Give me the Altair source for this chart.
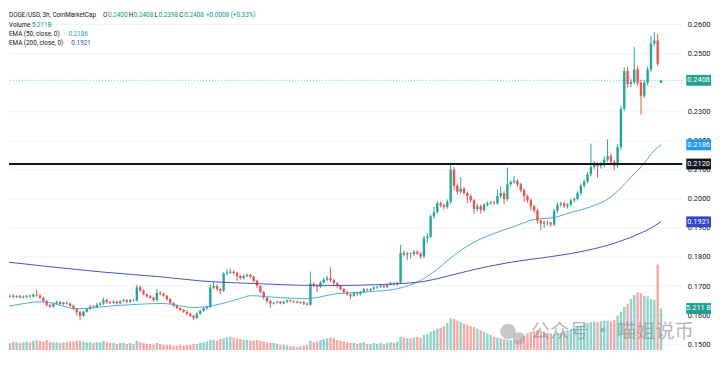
import altair as alt
import pandas as pd

# ---------------- data (prices in 1e-4 USD units) ----------------
close = [
    1664, 1667, 1663, 1666, 1661, 1663, 1667, 1664, 1670, 1668,
    1660, 1648, 1635, 1630, 1640, 1645, 1638, 1643, 1640, 1632,
    1622, 1610, 1598, 1612, 1622, 1630, 1627, 1636, 1640, 1652,
    1645, 1642, 1646, 1641, 1648, 1651, 1646, 1652, 1650, 1696,
    1685, 1672, 1665, 1660, 1652, 1677, 1674, 1667, 1655, 1642,
    1632, 1625, 1618, 1612, 1605, 1598, 1590, 1605, 1615, 1624,
    1628, 1695, 1700, 1690, 1684, 1742, 1746, 1749, 1745, 1735,
    1728, 1735, 1738, 1732, 1718, 1700, 1680, 1660, 1648, 1640,
    1643, 1646, 1641, 1646, 1650, 1648, 1646, 1643, 1645, 1640,
    1636, 1708, 1702, 1698, 1712, 1722, 1727, 1720, 1710, 1700,
    1690, 1680, 1672, 1667, 1675, 1672, 1680, 1688, 1686, 1690,
    1695, 1698, 1702, 1698, 1705, 1710, 1706, 1712, 1815, 1808,
    1812, 1810, 1818, 1812, 1802, 1865, 1870, 1940, 1955, 1985,
    1978, 1972, 1990, 2100, 2045, 2025, 2035, 2020, 2010, 1995,
    1965, 1975, 1962, 1980, 1985, 1988, 1985, 2010, 2020, 2000,
    2050, 2058, 2062, 2050, 2030, 2010, 1995, 1975, 1960, 1925,
    1915, 1920, 1918, 1912, 1960, 1980, 1985, 1975, 1980, 1995,
    2000, 2020, 2045, 2060, 2085, 2110, 2118, 2112, 2116, 2135,
    2148, 2128, 2115, 2178, 2310, 2440, 2395, 2402, 2445, 2400,
    2355, 2400, 2445, 2535, 2545, 2465, 2408,
]
first_open = 1661
gap_open = {196: 2400}

upper_wick = [
    4, 3, 5, 3, 4, 5, 3, 4, 6, 18,
    4, 3, 5, 4, 3, 5, 4, 3, 4, 3,
    4, 3, 5, 4, 3, 5, 4, 6, 5, 8,
    4, 3, 5, 4, 3, 5, 4, 3, 4, 9,
    5, 4, 3, 4, 3, 13, 5, 4, 3, 4,
    3, 4, 3, 4, 3, 4, 3, 5, 4, 3,
    4, 11, 14, 5, 4, 6, 12, 11, 5, 4,
    4, 5, 6, 4, 3, 4, 3, 4, 3, 4,
    3, 4, 3, 4, 3, 4, 3, 4, 3, 4,
    3, 42, 6, 4, 5, 6, 8, 38, 5, 4,
    4, 3, 4, 3, 5, 4, 3, 5, 4, 3,
    4, 3, 5, 4, 3, 5, 4, 3, 27, 6,
    5, 4, 6, 5, 4, 8, 12, 6, 17, 8,
    6, 5, 8, 25, 10, 8, 40, 6, 5, 6,
    5, 8, 6, 5, 6, 5, 6, 22, 22, 6,
    58, 6, 16, 6, 5, 6, 5, 6, 5, 6,
    5, 6, 5, 4, 6, 8, 5, 6, 5, 6,
    5, 6, 8, 6, 8, 80, 12, 8, 10, 12,
    57, 8, 6, 10, 10, 12, 15, 10, 77, 12,
    10, 8, 10, 25, 30, 23, 0,
]
lower_wick = [
    4, 3, 5, 4, 3, 4, 5, 3, 4, 5,
    4, 5, 6, 5, 4, 3, 5, 4, 3, 4,
    5, 10, 16, 4, 3, 5, 4, 3, 4, 5,
    6, 4, 3, 5, 4, 3, 4, 5, 4, 4,
    5, 4, 5, 4, 6, 4, 5, 4, 5, 4,
    5, 4, 5, 4, 6, 5, 7, 4, 3, 4,
    5, 4, 5, 6, 12, 4, 5, 4, 6, 17,
    6, 5, 4, 6, 5, 6, 5, 6, 5, 15,
    4, 3, 4, 3, 4, 3, 4, 3, 4, 5,
    4, 4, 6, 18, 5, 4, 5, 6, 5, 6,
    5, 6, 5, 11, 4, 5, 4, 5, 4, 5,
    4, 5, 4, 5, 4, 3, 5, 4, 5, 6,
    18, 15, 6, 5, 7, 6, 17, 6, 8, 6,
    7, 8, 6, 8, 15, 10, 8, 7, 25, 8,
    17, 8, 12, 7, 6, 5, 7, 6, 8, 18,
    8, 7, 6, 8, 7, 20, 8, 15, 8, 10,
    22, 15, 8, 7, 6, 8, 7, 6, 8, 6,
    7, 6, 8, 7, 6, 8, 7, 40, 8, 7,
    8, 10, 17, 8, 10, 8, 12, 10, 8, 12,
    65, 8, 10, 8, 10, 8, 2,
]
volume_b = [
    1.0, 0.9, 1.1, 1.0, 0.9, 1.0, 1.1, 1.0, 1.2, 1.3,
    1.2, 1.1, 1.3, 1.1, 1.0, 1.0, 0.9, 1.0, 1.0, 1.1,
    1.1, 1.2, 1.2, 1.1, 1.0, 1.0, 0.9, 1.0, 1.0, 1.2,
    1.0, 0.9, 0.9, 0.8, 0.9, 0.9, 0.8, 0.9, 0.8, 1.2,
    1.0, 0.9, 0.8, 0.8, 0.7, 0.9, 0.8, 0.7, 0.7, 0.7,
    0.6, 0.6, 0.7, 0.6, 0.7, 0.7, 0.8, 0.8, 0.9, 1.0,
    1.1, 1.3, 1.3, 1.2, 1.4, 1.5, 1.6, 1.7, 1.6, 1.5,
    1.4, 1.3, 1.3, 1.2, 1.2, 1.3, 1.2, 1.1, 1.0, 0.9,
    0.9, 0.8, 0.7, 0.7, 0.6, 0.5, 0.5, 0.4, 0.5, 0.6,
    0.7, 1.2, 1.0, 1.1, 1.3, 1.4, 1.5, 1.6, 1.5, 1.3,
    1.2, 1.1, 1.0, 0.9, 0.9, 0.8, 0.9, 1.0, 0.8, 0.8,
    0.9, 0.8, 0.9, 0.8, 0.9, 1.0, 0.9, 1.1, 1.7, 1.6,
    1.5, 1.5, 1.6, 1.7, 1.6, 1.9, 2.0, 2.3, 2.5, 2.7,
    2.8, 3.0, 3.4, 4.0, 3.9, 3.7, 3.5, 3.3, 3.2, 3.0,
    2.9, 2.7, 2.5, 2.3, 2.1, 1.9, 1.7, 1.6, 1.5, 1.4,
    1.3, 1.3, 1.2, 1.3, 1.5, 1.8, 2.1, 2.3, 2.4, 2.5,
    2.4, 2.3, 2.2, 2.1, 2.0, 2.1, 2.2, 2.4, 2.5, 2.6,
    2.8, 3.0, 3.1, 3.3, 3.4, 3.5, 3.6, 3.5, 3.6, 3.7,
    3.7, 3.6, 3.8, 4.3, 4.8, 5.4, 5.8, 6.4, 6.9, 7.2,
    7.1, 6.8, 6.7, 6.4, 6.3, 10.7, 5.2118,
]

ema50_idx = [0, 11, 21, 33, 47, 56, 70, 73, 82, 90, 99, 108, 117, 123, 128,
             134, 140, 146, 152, 158, 164, 169, 175, 181, 184, 187, 191, 194, 196]
ema50_val = [0.1629, 0.1646, 0.1622, 0.1633, 0.1640, 0.1626, 0.1657, 0.1667,
             0.1660, 0.1657, 0.1674, 0.1680, 0.1691, 0.1714, 0.1749, 0.1806,
             0.1851, 0.1881, 0.1905, 0.1929, 0.1936, 0.1953, 0.1973, 0.2007,
             0.2038, 0.2075, 0.2123, 0.2167, 0.2186]
ema200_idx = [0, 29, 47, 58, 76, 88, 99, 111, 117, 125, 131, 140, 150, 164,
              169, 181, 187, 193, 196]
ema200_val = [0.1783, 0.1748, 0.1731, 0.1718, 0.1708, 0.1703, 0.1702, 0.1705,
              0.1708, 0.1716, 0.1731, 0.1757, 0.1780, 0.1803, 0.1812, 0.1844,
              0.1868, 0.1900, 0.1921]

tick_pos = [8, 24, 48, 64, 80, 96, 112, 128, 144, 160, 176, 192]
tick_lab = ["26", "28", "Jul", "3", "5", "7", "9", "11", "13", "15", "17", "19"]
price_ticks = [0.15, 0.16, 0.17, 0.18, 0.19, 0.20, 0.21, 0.22, 0.23, 0.25, 0.26]
grid_ticks = [0.15, 0.16, 0.17, 0.18, 0.19, 0.20, 0.21, 0.22, 0.23, 0.24, 0.25, 0.26]

level_price = 0.2120
last_price = 0.2408

box_price = [0.2408, 0.2186, 0.2120, 0.1921]
box_text = ["0.2408", "0.2186", "0.2120", "0.1921"]
box_color = ["#22a08f", "#2196f3", "#131722", "#3347c4"]
vol_last = 5.2118
vol_last_text = "5.211 B"

# ---------------- styling ----------------
UP, DOWN = "#26a69a", "#ef5350"
FONT = "Roboto"
W, H = 680, 344

rows = []
prev = first_open
for i, c in enumerate(close):
    o = gap_open.get(i, prev)
    hi = max(o, c) + upper_wick[i]
    lo = min(o, c) - lower_wick[i]
    rows.append(dict(i=i, o=o / 1e4, c=c / 1e4, hi=hi / 1e4, lo=lo / 1e4,
                     vol=volume_b[i], dir="up" if c >= o else "down"))
    prev = c
df = pd.DataFrame(rows)

xs = alt.Scale(domain=[2.19, 200.9], nice=False, zero=False)
ys = alt.Scale(domain=[0.1479, 0.2651], nice=False, zero=False)
vs = alt.Scale(domain=[0, 42.47], nice=False)
col = alt.Color("dir:N", scale=alt.Scale(domain=["up", "down"], range=[UP, DOWN]), legend=None)

label_expr = "".join(f"datum.value=={p}?'{l}':" for p, l in zip(tick_pos, tick_lab)) + "''"

base = alt.Chart(df)

hgrid = alt.Chart(pd.DataFrame({"p": grid_ticks})).mark_rule(
    color="#f0f3fa", strokeWidth=1).encode(y=alt.Y("p:Q", scale=ys, axis=None))

volume = base.mark_bar(size=2.4, opacity=0.5, clip=True).encode(
    x=alt.X("i:Q", scale=xs, axis=None),
    y=alt.Y("vol:Q", scale=vs, axis=None),
    color=col,
)

wicks = base.mark_rule(strokeWidth=1, clip=True).encode(
    x=alt.X("i:Q", scale=xs, axis=alt.Axis(
        values=tick_pos, labelExpr=label_expr, title=None, domain=False, ticks=False,
        labelFontSize=7.5, labelColor="#131722", labelFont=FONT, labelPadding=5,
        grid=True, gridColor="#f0f3fa", labelFlush=False)),
    y=alt.Y("lo:Q", scale=ys, axis=alt.Axis(
        orient="right", values=price_ticks, format=".4f", title=None, domain=False,
        ticks=False, labelFontSize=7.5, labelColor="#131722", labelFont=FONT,
        labelPadding=5, grid=False)),
    y2="hi:Q",
    color=col,
)

bodies = base.mark_bar(size=2.4, clip=True).encode(
    x=alt.X("i:Q", scale=xs, axis=None),
    y=alt.Y("o:Q", scale=ys, axis=None),
    y2="c:Q",
    color=col,
)

ema50 = alt.Chart(pd.DataFrame({"i": ema50_idx, "v": ema50_val})).mark_line(
    color="#3d9fe0", strokeWidth=0.9, interpolate="monotone", clip=True).encode(
    x=alt.X("i:Q", scale=xs, axis=None), y=alt.Y("v:Q", scale=ys, axis=None))
ema200 = alt.Chart(pd.DataFrame({"i": ema200_idx, "v": ema200_val})).mark_line(
    color="#4a4fc8", strokeWidth=1, interpolate="monotone", clip=True).encode(
    x=alt.X("i:Q", scale=xs, axis=None), y=alt.Y("v:Q", scale=ys, axis=None))

level = alt.Chart(pd.DataFrame({"p": [level_price]})).mark_rule(
    color="#131722", strokeWidth=2).encode(y=alt.Y("p:Q", scale=ys, axis=None))
lastline = alt.Chart(pd.DataFrame({"p": [last_price]})).mark_rule(
    color=UP, strokeWidth=1, strokeDash=[1, 2], opacity=0.7).encode(
    y=alt.Y("p:Q", scale=ys, axis=None))

boxes_df = pd.DataFrame({"p": box_price, "t": box_text, "bg": box_color})
boxes = alt.Chart(boxes_df).transform_calculate(
    top="datum.p + 0.00187", bot="datum.p - 0.00187").mark_rect().encode(
    x=alt.value(684), x2=alt.value(709),
    y=alt.Y("top:Q", scale=ys, axis=None), y2="bot:Q",
    color=alt.Color("bg:N", scale=None))
box_txt = alt.Chart(boxes_df).mark_text(
    color="white", fontSize=7.5, font=FONT, align="center", baseline="middle").encode(
    x=alt.value(696.5), y=alt.Y("p:Q", scale=ys, axis=None), text="t:N")

vbox_df = pd.DataFrame({"v": [vol_last], "t": [vol_last_text]})
vbox = alt.Chart(vbox_df).transform_calculate(
    top="datum.v + 0.68", bot="datum.v - 0.68").mark_rect(color="#22a08f").encode(
    x=alt.value(684), x2=alt.value(709),
    y=alt.Y("top:Q", scale=vs, axis=None), y2="bot:Q")
vbox_txt = alt.Chart(vbox_df).mark_text(
    color="white", fontSize=7.5, font=FONT, align="center", baseline="middle").encode(
    x=alt.value(696.5), y=alt.Y("v:Q", scale=vs, axis=None), text="t:N")

DARK, GREEN = "#131722", "#089981"
head = pd.DataFrame([
    dict(x=0, y=5, t="DOGE/USD, 3h, CoinMarketCap", c=DARK),
    dict(x=95, y=5, t="O", c=DARK), dict(x=100, y=5, t="0.2400", c=GREEN),
    dict(x=121, y=5, t="H", c=DARK), dict(x=126, y=5, t="0.2408", c=GREEN),
    dict(x=147, y=5, t="L", c=DARK), dict(x=151, y=5, t="0.2398", c=GREEN),
    dict(x=172, y=5, t="C", c=DARK), dict(x=177, y=5, t="0.2408", c=GREEN),
    dict(x=199, y=5, t="+0.0008 (+0.33%)", c=GREEN),
    dict(x=0, y=15, t="Volume", c=DARK), dict(x=23, y=15, t="5.211B", c=GREEN),
    dict(x=0, y=25, t="EMA (50, close, 0)", c=DARK), dict(x=60, y=25, t="0.2186", c="#2196f3"),
    dict(x=0, y=34, t="EMA (200, close, 0)", c=DARK), dict(x=63, y=34, t="0.1921", c="#3347c4"),
])
header = alt.Chart(head).mark_text(
    fontSize=6.4, font=FONT, align="left", baseline="middle").encode(
    x=alt.X("x:Q", scale=None), y=alt.Y("y:Q", scale=None), text="t:N",
    color=alt.Color("c:N", scale=None))

wm_icon = alt.Chart(pd.DataFrame({"x": [504, 515], "y": [325, 332], "s": [250, 160]})).mark_point(
    filled=True, color="#9a9a9a", opacity=0.55, shape="circle").encode(
    x=alt.X("x:Q", scale=None), y=alt.Y("y:Q", scale=None),
    size=alt.Size("s:Q", scale=None))
wm_text = alt.Chart(pd.DataFrame({"t": ["公众号 · 喵姐说币"]})).mark_text(
    font="Noto Sans CJK SC", fontSize=19.5, color="#8a8a8a", opacity=0.6,
    align="left", baseline="middle").encode(
    x=alt.value(527), y=alt.value(326), text="t:N")

chart = alt.layer(
    hgrid, volume, wicks, bodies, ema50, ema200, level, lastline,
    boxes, box_txt, vbox, vbox_txt, header, wm_icon, wm_text,
).resolve_scale(y="independent").properties(
    width=W, height=H, padding=0, background="white"
).configure_view(strokeWidth=0)

chart.save("out.html", embed_options={"renderer": "svg", "actions": False})
